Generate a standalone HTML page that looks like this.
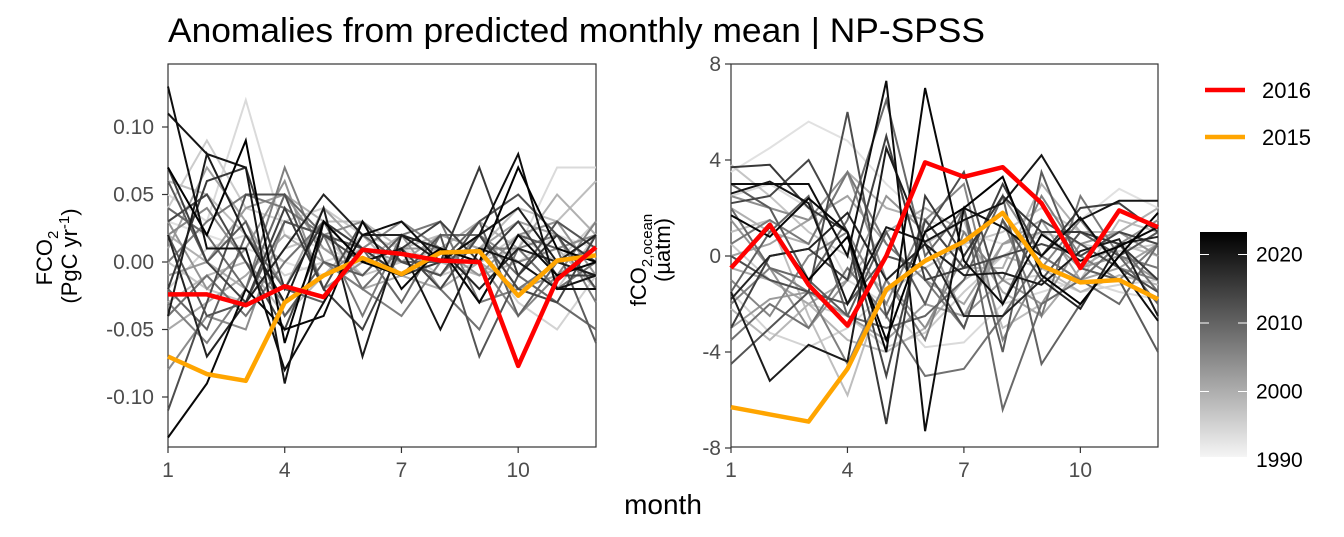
<!DOCTYPE html>
<html><head><meta charset="utf-8">
<style>
body{margin:0;background:#fff;}
svg{display:block;font-family:"Liberation Sans",sans-serif;}
.tick{font-size:21px;fill:#4d4d4d;}
</style></head>
<body>
<svg id="chart" width="1344" height="537" viewBox="0 0 1344 537">
<defs><linearGradient id="cbg" x1="0" y1="1" x2="0" y2="0"><stop offset="0" stop-color="#f5f5f5"/><stop offset="1" stop-color="#000"/></linearGradient></defs>
<text x="168" y="42" font-size="34" textLength="817" lengthAdjust="spacingAndGlyphs" fill="#000">Anomalies from predicted monthly mean | NP-SPSS</text>
<rect x="168" y="64" width="428" height="383" fill="none" stroke="#333" stroke-width="1.2"/>
<rect x="731" y="64" width="427" height="383" fill="none" stroke="#333" stroke-width="1.2"/>
<g id="leftLines"></g>
<g id="rightLines"></g>
<g id="axes"></g>
<text transform="translate(52,258) rotate(-90)" text-anchor="middle" font-size="22">FCO<tspan font-size="15" dy="6">2</tspan></text>
<text transform="translate(77,256) rotate(-90)" text-anchor="middle" font-size="22">(PgC yr<tspan font-size="15" dy="-8">-1</tspan><tspan dy="8">)</tspan></text>
<text transform="translate(646,260) rotate(-90)" text-anchor="middle" font-size="22">fCO<tspan font-size="15" dy="6">2,ocean</tspan></text>
<text transform="translate(670,250) rotate(-90)" text-anchor="middle" font-size="22">(µatm)</text>
<text x="663" y="514" text-anchor="middle" font-size="28">month</text>
<line x1="1205" y1="90" x2="1245" y2="90" stroke="#ff0000" stroke-width="4.5"/>
<text x="1262" y="98" font-size="22">2016</text>
<line x1="1205" y1="137" x2="1245" y2="137" stroke="#ffa500" stroke-width="4.5"/>
<text x="1262" y="145" font-size="22">2015</text>
<rect x="1200" y="232" width="47" height="225" fill="url(#cbg)"/>
<g id="cbticks"></g>
</svg>
<script>
const months=[1,2,3,4,5,6,7,8,9,10,11,12];
const greyYears=[1990,1991,1992,1993,1994,1995,1996,1997,1998,1999,2000,2001,2002,2003,2004,2005,2006,2007,2008,2009,2010,2011,2012,2013,2014,2017,2018,2019,2020,2021,2022];
const leftGrey=[
[0.03,0.02,0.01,0.00,-0.01,0.00,0.01,0.00,-0.01,0.00,0.02,0.01],
[0.05,0.03,0.12,0.02,0.01,0.00,0.00,0.01,-0.01,0.01,0.07,0.07],
[-0.02,0.01,0.02,-0.01,0.00,0.01,0.00,0.00,0.01,-0.03,-0.05,-0.01],
[0.04,0.09,0.04,0.03,0.04,0.02,0.01,-0.01,0.00,0.02,0.00,0.03],
[0.00,-0.02,-0.03,0.01,0.02,-0.01,0.00,0.01,0.00,0.01,-0.02,0.02],
[0.06,0.05,0.02,0.00,0.03,0.03,0.01,0.02,0.01,0.04,0.03,0.06],
[-0.03,-0.01,0.00,-0.04,-0.01,0.02,-0.01,0.00,-0.01,0.00,0.01,-0.02],
[0.02,0.00,-0.02,0.05,0.03,0.00,0.02,0.01,0.03,0.01,0.05,0.02],
[-0.05,-0.03,-0.01,0.02,0.00,-0.02,-0.01,-0.02,0.00,-0.02,0.00,0.01],
[0.01,0.07,0.03,-0.02,0.04,0.01,0.00,0.02,0.01,0.03,0.02,0.00],
[-0.01,0.00,0.04,0.05,0.01,-0.01,0.02,-0.02,0.02,-0.02,-0.01,0.01],
[0.03,-0.02,0.01,0.06,-0.02,0.00,0.01,0.01,-0.01,0.02,0.03,-0.01],
[-0.08,-0.04,-0.05,0.03,0.02,0.03,0.00,-0.01,0.02,0.00,0.01,0.02],
[0.02,0.04,0.00,-0.03,-0.01,0.01,0.03,0.01,0.00,-0.04,-0.01,0.03],
[-0.03,-0.06,-0.02,0.07,0.00,-0.02,-0.04,0.00,0.01,0.01,0.02,-0.03],
[0.00,0.03,0.05,0.04,0.02,-0.04,0.02,0.03,-0.03,-0.02,0.00,0.01],
[-0.04,-0.01,-0.04,0.00,0.03,-0.02,0.01,-0.02,-0.05,0.01,-0.02,0.00],
[0.04,0.02,-0.02,0.05,0.02,0.01,-0.03,0.02,0.02,-0.01,-0.03,-0.05],
[-0.02,-0.05,0.02,-0.02,-0.03,0.02,0.00,0.00,0.03,-0.04,0.00,0.02],
[0.06,0.00,0.03,-0.04,0.00,-0.01,0.02,0.01,-0.03,0.02,0.01,-0.06],
[0.02,-0.04,-0.03,0.03,0.02,0.01,-0.01,0.02,-0.07,-0.01,0.03,0.01],
[-0.11,-0.03,0.05,0.05,-0.02,0.03,0.00,-0.01,0.03,0.05,0.02,-0.02],
[0.03,0.05,0.00,-0.05,0.02,0.00,0.01,-0.02,0.02,-0.02,-0.03,0.02],
[0.07,0.00,-0.03,0.04,-0.02,-0.05,0.01,0.03,0.00,0.03,-0.01,-0.01],
[-0.02,0.06,0.07,-0.02,0.03,0.01,-0.01,0.00,0.07,-0.01,0.02,0.00],
[0.02,-0.07,-0.03,0.01,0.05,0.02,0.02,0.01,-0.02,0.01,0.00,0.02],
[-0.04,0.08,0.02,-0.03,0.04,-0.07,0.02,0.00,0.02,0.04,0.00,-0.01],
[0.11,0.08,0.07,-0.09,0.03,0.00,0.01,-0.05,0.01,0.00,-0.02,-0.01],
[0.13,0.01,0.01,-0.08,-0.03,0.02,0.03,0.00,0.02,0.08,-0.02,-0.02],
[-0.13,-0.09,-0.02,-0.05,-0.04,0.03,-0.02,0.01,-0.03,0.02,-0.01,0.00],
[0.07,0.02,0.09,-0.06,0.03,0.00,-0.01,0.01,0.00,0.07,0.01,0.00]];
const rightGrey=[
[3.5,4.5,5.6,4.8,3.0,1.5,1.0,0.5,0.8,1.5,2.8,2.0],
[2.5,3.0,2.0,-1.0,-2.0,-3.8,-3.6,-2.0,-1.5,-1.0,-1.5,-1.8],
[-1.5,-3.2,-3.8,-3.0,-1.5,-0.5,0.5,-1.0,-0.8,-1.5,-1.2,-1.0],
[0.5,-1.0,-2.0,-2.5,-3.8,-3.2,-1.5,0.0,1.0,0.5,0.2,0.5],
[3.8,2.5,1.0,0.0,-1.5,-0.5,0.5,1.0,2.0,1.0,0.5,0.0],
[1.0,1.5,-2.5,-5.8,-1.0,0.5,1.5,-3.0,-2.0,-1.0,1.5,1.0],
[-2.2,-3.5,-2.0,-3.5,-4.0,-3.0,-1.0,0.0,-0.5,-1.5,-0.8,-1.2],
[2.0,1.0,0.5,3.5,2.0,1.5,-0.5,-0.5,3.0,1.0,1.0,2.0],
[-0.5,-1.0,-2.0,-1.0,1.0,2.0,1.0,-1.5,-2.5,-0.5,0.5,-1.5],
[0.0,0.5,1.5,2.5,0.5,-1.0,-2.0,0.5,1.5,-1.0,-0.5,0.5],
[-3.0,-1.8,-1.5,-2.5,-3.5,-2.0,-2.5,0.5,1.0,-0.5,0.0,-1.0],
[1.5,-0.5,-3.0,-1.0,2.5,1.0,-2.5,-1.0,-2.0,0.5,1.0,0.0],
[2.5,2.0,1.5,3.5,-1.0,-3.0,0.0,2.5,0.0,-1.0,0.5,1.5],
[-1.0,-2.5,0.0,1.0,-2.0,1.5,3.0,-3.5,-0.5,1.5,-0.5,-1.0],
[-2.0,-0.5,-1.5,-4.5,-1.0,-3.5,1.0,-1.0,2.5,0.0,-1.0,0.5],
[0.5,1.5,0.5,3.5,0.5,-1.0,-3.0,1.5,-2.5,2.5,0.0,-0.5],
[-3.5,-2.0,-3.0,-0.5,-2.5,-5.0,-4.7,-2.5,0.0,-1.0,0.5,-1.5],
[2.0,-0.5,-1.0,1.5,6.5,0.0,2.0,-6.4,-2.0,-1.0,-2.0,0.5],
[-1.5,1.0,2.5,-2.5,-3.0,-2.5,-1.0,2.5,-4.5,-2.0,0.0,-2.0],
[3.0,2.0,-1.0,-2.5,1.0,-2.0,2.0,-4.0,3.5,-0.5,-1.0,-4.0],
[-4.5,-3.0,-1.5,-2.0,0.0,-0.5,-3.0,1.5,-1.0,1.0,0.0,1.0],
[0.0,-1.0,-1.5,6.0,-2.5,1.0,3.5,-2.0,1.5,0.5,-0.5,-1.5],
[2.2,2.5,4.0,1.0,-5.0,1.5,-0.5,0.0,0.5,0.0,1.0,0.5],
[-3.0,0.0,0.3,-1.0,5.0,-1.0,-0.5,3.0,0.0,2.0,2.2,1.0],
[3.7,3.8,2.0,1.0,-7.0,2.5,0.0,2.5,1.0,1.0,0.5,-1.0],
[-1.8,0.0,0.3,1.8,-1.0,0.5,-2.5,-2.5,-1.0,-2.2,0.5,0.8],
[-1.5,-5.2,-3.7,-4.4,4.5,0.5,-0.8,-0.7,-1.2,0.2,0.7,-2.5],
[2.6,3.1,2.2,-2.0,1.2,0.6,1.5,2.2,4.2,1.5,2.3,2.3],
[3.0,3.0,3.0,0.0,7.3,-7.3,2.0,1.2,0.0,1.6,-0.5,-2.7],
[1.7,0.8,2.4,1.0,-4.0,7.0,-0.2,-2.0,0.9,-0.2,0.4,1.2],
[-0.5,1.2,-1.0,0.8,-3.5,1.0,2.0,3.3,-0.8,-2.0,0.0,1.8]];
const left2016=[-0.024,-0.024,-0.032,-0.018,-0.026,0.009,0.006,0.001,0.000,-0.077,-0.013,0.011];
const left2015=[-0.070,-0.083,-0.088,-0.030,-0.010,0.003,-0.009,0.007,0.008,-0.025,0.001,0.005];
const right2016=[-0.5,1.3,-1.2,-2.9,0.0,3.9,3.3,3.7,2.2,-0.5,1.9,1.2];
const right2015=[-6.3,-6.6,-6.9,-4.7,-1.4,-0.2,0.6,1.8,-0.4,-1.1,-1.0,-1.8];
const xTicks=[1,4,7,10];
const leftYTicks=[-0.10,-0.05,0.00,0.05,0.10];
const leftYLabels=["-0.10","-0.05","0.00","0.05","0.10"];
const rightYTicks=[-8,-4,0,4,8];
const cbYears=[1990,2000,2010,2020];

const NS="http://www.w3.org/2000/svg";
const xL=m=>168+(m-1)*428/11;
const xR=m=>731+(m-1)*427/11;
const yL=v=>262-1350*v;
const yR=v=>256-24*v;
const yCb=yr=>460-(yr-1990)*6.85;
function grey(yr){const t=(yr-1990)/32;const g=Math.round(225*(1-t));return `rgb(${g},${g},${g})`;}
function mk(tag,attrs,parent){const e=document.createElementNS(NS,tag);for(const k in attrs)e.setAttribute(k,attrs[k]);parent.appendChild(e);return e;}
function pathD(vals,xf,yf){return vals.map((v,i)=>(i?'L':'M')+xf(months[i]).toFixed(1)+','+yf(v).toFixed(1)).join('');}
const lg=document.getElementById('leftLines'),rg=document.getElementById('rightLines'),ax=document.getElementById('axes');
greyYears.forEach((yr,i)=>{
 const a=mk('path',{d:pathD(leftGrey[i],xL,yL),fill:'none',stroke:grey(yr),'stroke-width':2},lg);
 
 
 const b=mk('path',{d:pathD(rightGrey[i],xR,yR),fill:'none',stroke:grey(yr),'stroke-width':2},rg);
 
 
});
[[left2015,lg,xL,yL,'#ffa500','left-line-2015'],[left2016,lg,xL,yL,'#ff0000','left-line-2016'],[right2015,rg,xR,yR,'#ffa500','right-line-2015'],[right2016,rg,xR,yR,'#ff0000','right-line-2016']].forEach(s=>{
 const p=mk('path',{d:pathD(s[0],s[2],s[3]),fill:'none',stroke:s[4],'stroke-width':4.5,'stroke-linejoin':'round'},s[1]);
 
 
});
xTicks.forEach(m=>{
 [[xL,'left'],[xR,'right']].forEach(([xf,n])=>{
  const x=xf(m);
  mk('line',{x1:x,y1:447,x2:x,y2:453,stroke:'#333','stroke-width':1.2},ax);
  const t=mk('text',{x:x,y:477,'text-anchor':'middle',class:'tick'},ax);t.textContent=m;
  
  
 });
});
leftYTicks.forEach((v,i)=>{
 const y=yL(v);
 mk('line',{x1:162,y1:y,x2:168,y2:y,stroke:'#333','stroke-width':1.2},ax);
 const t=mk('text',{x:154,y:y+7,'text-anchor':'end',class:'tick'},ax);t.textContent=leftYLabels[i];
 
 
});
rightYTicks.forEach(v=>{
 const y=yR(v);
 mk('line',{x1:725,y1:y,x2:731,y2:y,stroke:'#333','stroke-width':1.2},ax);
 const t=mk('text',{x:721,y:y+7,'text-anchor':'end',class:'tick'},ax);t.textContent=v;
 
 
});
const cb=document.getElementById('cbticks');
cbYears.forEach(yr=>{
 const y=yCb(yr);
 mk('line',{x1:1200,y1:y,x2:1209,y2:y,stroke:'#fff','stroke-width':1},cb);
 mk('line',{x1:1238,y1:y,x2:1247,y2:y,stroke:'#fff','stroke-width':1},cb);
 const t=mk('text',{x:1256,y:y+7,'font-size':21,fill:'#000'},cb);t.textContent=yr;
 
 
});
</script>
</body></html>
